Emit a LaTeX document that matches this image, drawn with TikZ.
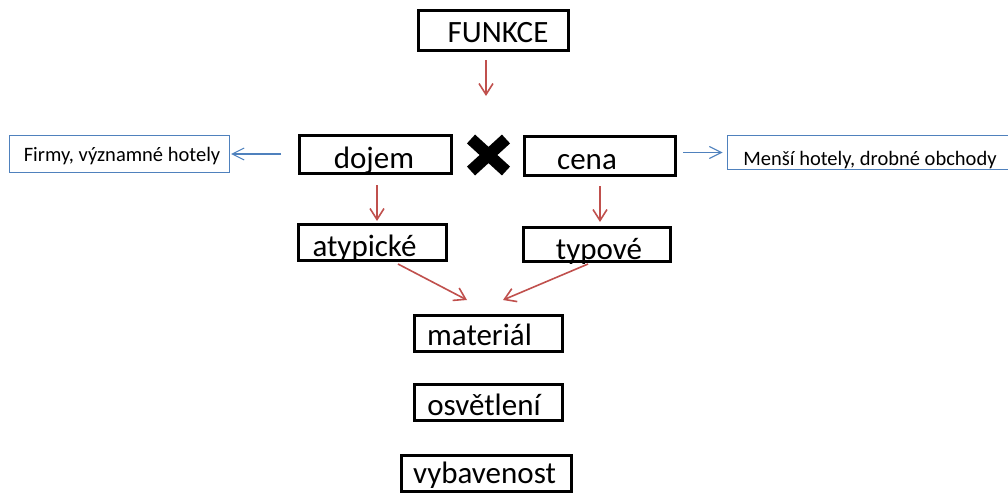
\documentclass[tikz,border=0pt]{standalone}
\usepackage{fontspec}
\setmainfont{Carlito}
\usetikzlibrary{arrows.meta}
\definecolor{arrred}{HTML}{C0504D}
\definecolor{arrblue}{HTML}{4F81BD}
\tikzset{
  bigbox/.style={draw=black, line width=3pt, inner sep=0pt, outer sep=0pt, fill=white},
  smallbox/.style={draw=arrblue, line width=1.2pt, inner sep=0pt, outer sep=0pt, fill=white},
  bigtxt/.style={anchor=base, inner sep=0pt, font=\fontsize{31}{37}\selectfont},
  smalltxt/.style={anchor=base, inner sep=0pt, font=\fontsize{20.5}{24}\selectfont},
  redarr/.style={draw=arrred, line width=1.6pt, -{Straight Barb[length=11pt,width=14pt]}},
  bluearr/.style={draw=arrblue, line width=1.1pt, -{Straight Barb[length=12pt,width=12pt]}},
}
\begin{document}
\begin{tikzpicture}[x=1pt,y=-1pt]
\useasboundingbox (0,0) rectangle (1008,495);
% boxes
\node[bigbox, minimum width=150pt, minimum height=40pt] (funkce) at (493.5,30.5) {};
\node[bigbox, minimum width=152pt, minimum height=38pt] (dojem) at (375.5,154.5) {};
\node[bigbox, minimum width=151pt, minimum height=39pt] (cena) at (600,156) {};
\node[bigbox, minimum width=148pt, minimum height=36pt] (atyp) at (372.5,242.5) {};
\node[bigbox, minimum width=147pt, minimum height=34pt] (typ) at (597,244.5) {};
\node[bigbox, minimum width=148pt, minimum height=36pt] (mat) at (488.5,333.5) {};
\node[bigbox, minimum width=148pt, minimum height=36pt] (osv) at (488.5,402.5) {};
\node[bigbox, minimum width=170pt, minimum height=36pt] (vyb) at (486.5,473.5) {};
\node[smallbox, minimum width=220pt, minimum height=37pt] (firmy) at (119.5,154) {};
\node[smallbox, minimum width=286pt, minimum height=34pt] (mensi) at (870.5,152.5) {};
% texts
\node[bigtxt] (funkceT) at (498,43) {FUNKCE};
\node[bigtxt] (dojemT) at (374,168) {dojem};
\node[bigtxt] (cenaT) at (587,169) {cena};
\node[bigtxt] (atypT) at (364.5,256) {atypické};
\node[bigtxt] (typT) at (599,259) {typové};
\node[bigtxt] (matT) at (479.5,345) {materiál};
\node[bigtxt] (osvT) at (484,415) {osvětlení};
\node[bigtxt] (vybT) at (484.5,483) {vybavenost};
\node[smalltxt] (firmyT) at (122,161) {Firmy, významné hotely};
\node[smalltxt] (mensiT) at (870,165) {Menší hotely, drobné obchody};
% cross mark
\draw[line width=12pt, line cap=butt] (471,139) -- (506,171) (506,139) -- (471,171);
% arrow end coordinates
\coordinate (e1) at (486,96);
\coordinate (e2) at (377,221);
\coordinate (e3) at (600,222);
\coordinate (s4) at (398,264);
\coordinate (e4) at (467,300);
\coordinate (s5) at (588,264);
\coordinate (e5) at (503,300);
% red arrows
\draw[redarr, shorten <=9.5pt] (funkce.south -| e1) -- (e1);
\draw[redarr, shorten <=11.5pt] (dojem.south -| e2) -- (e2);
\draw[redarr, shorten <=10.5pt] (cena.south -| e3) -- (e3);
\draw[redarr] (s4) -- (e4);
\draw[redarr] (s5) -- (e5);
% blue arrows
\draw[bluearr, shorten <=18.5pt, shorten >=1.5pt] (dojem.west |- firmy.east) -- (firmy.east);
\draw[bluearr, shorten <=7.5pt, shorten >=5pt] (cena.east |- mensi.west) -- (mensi.west);
\end{tikzpicture}
\end{document}
